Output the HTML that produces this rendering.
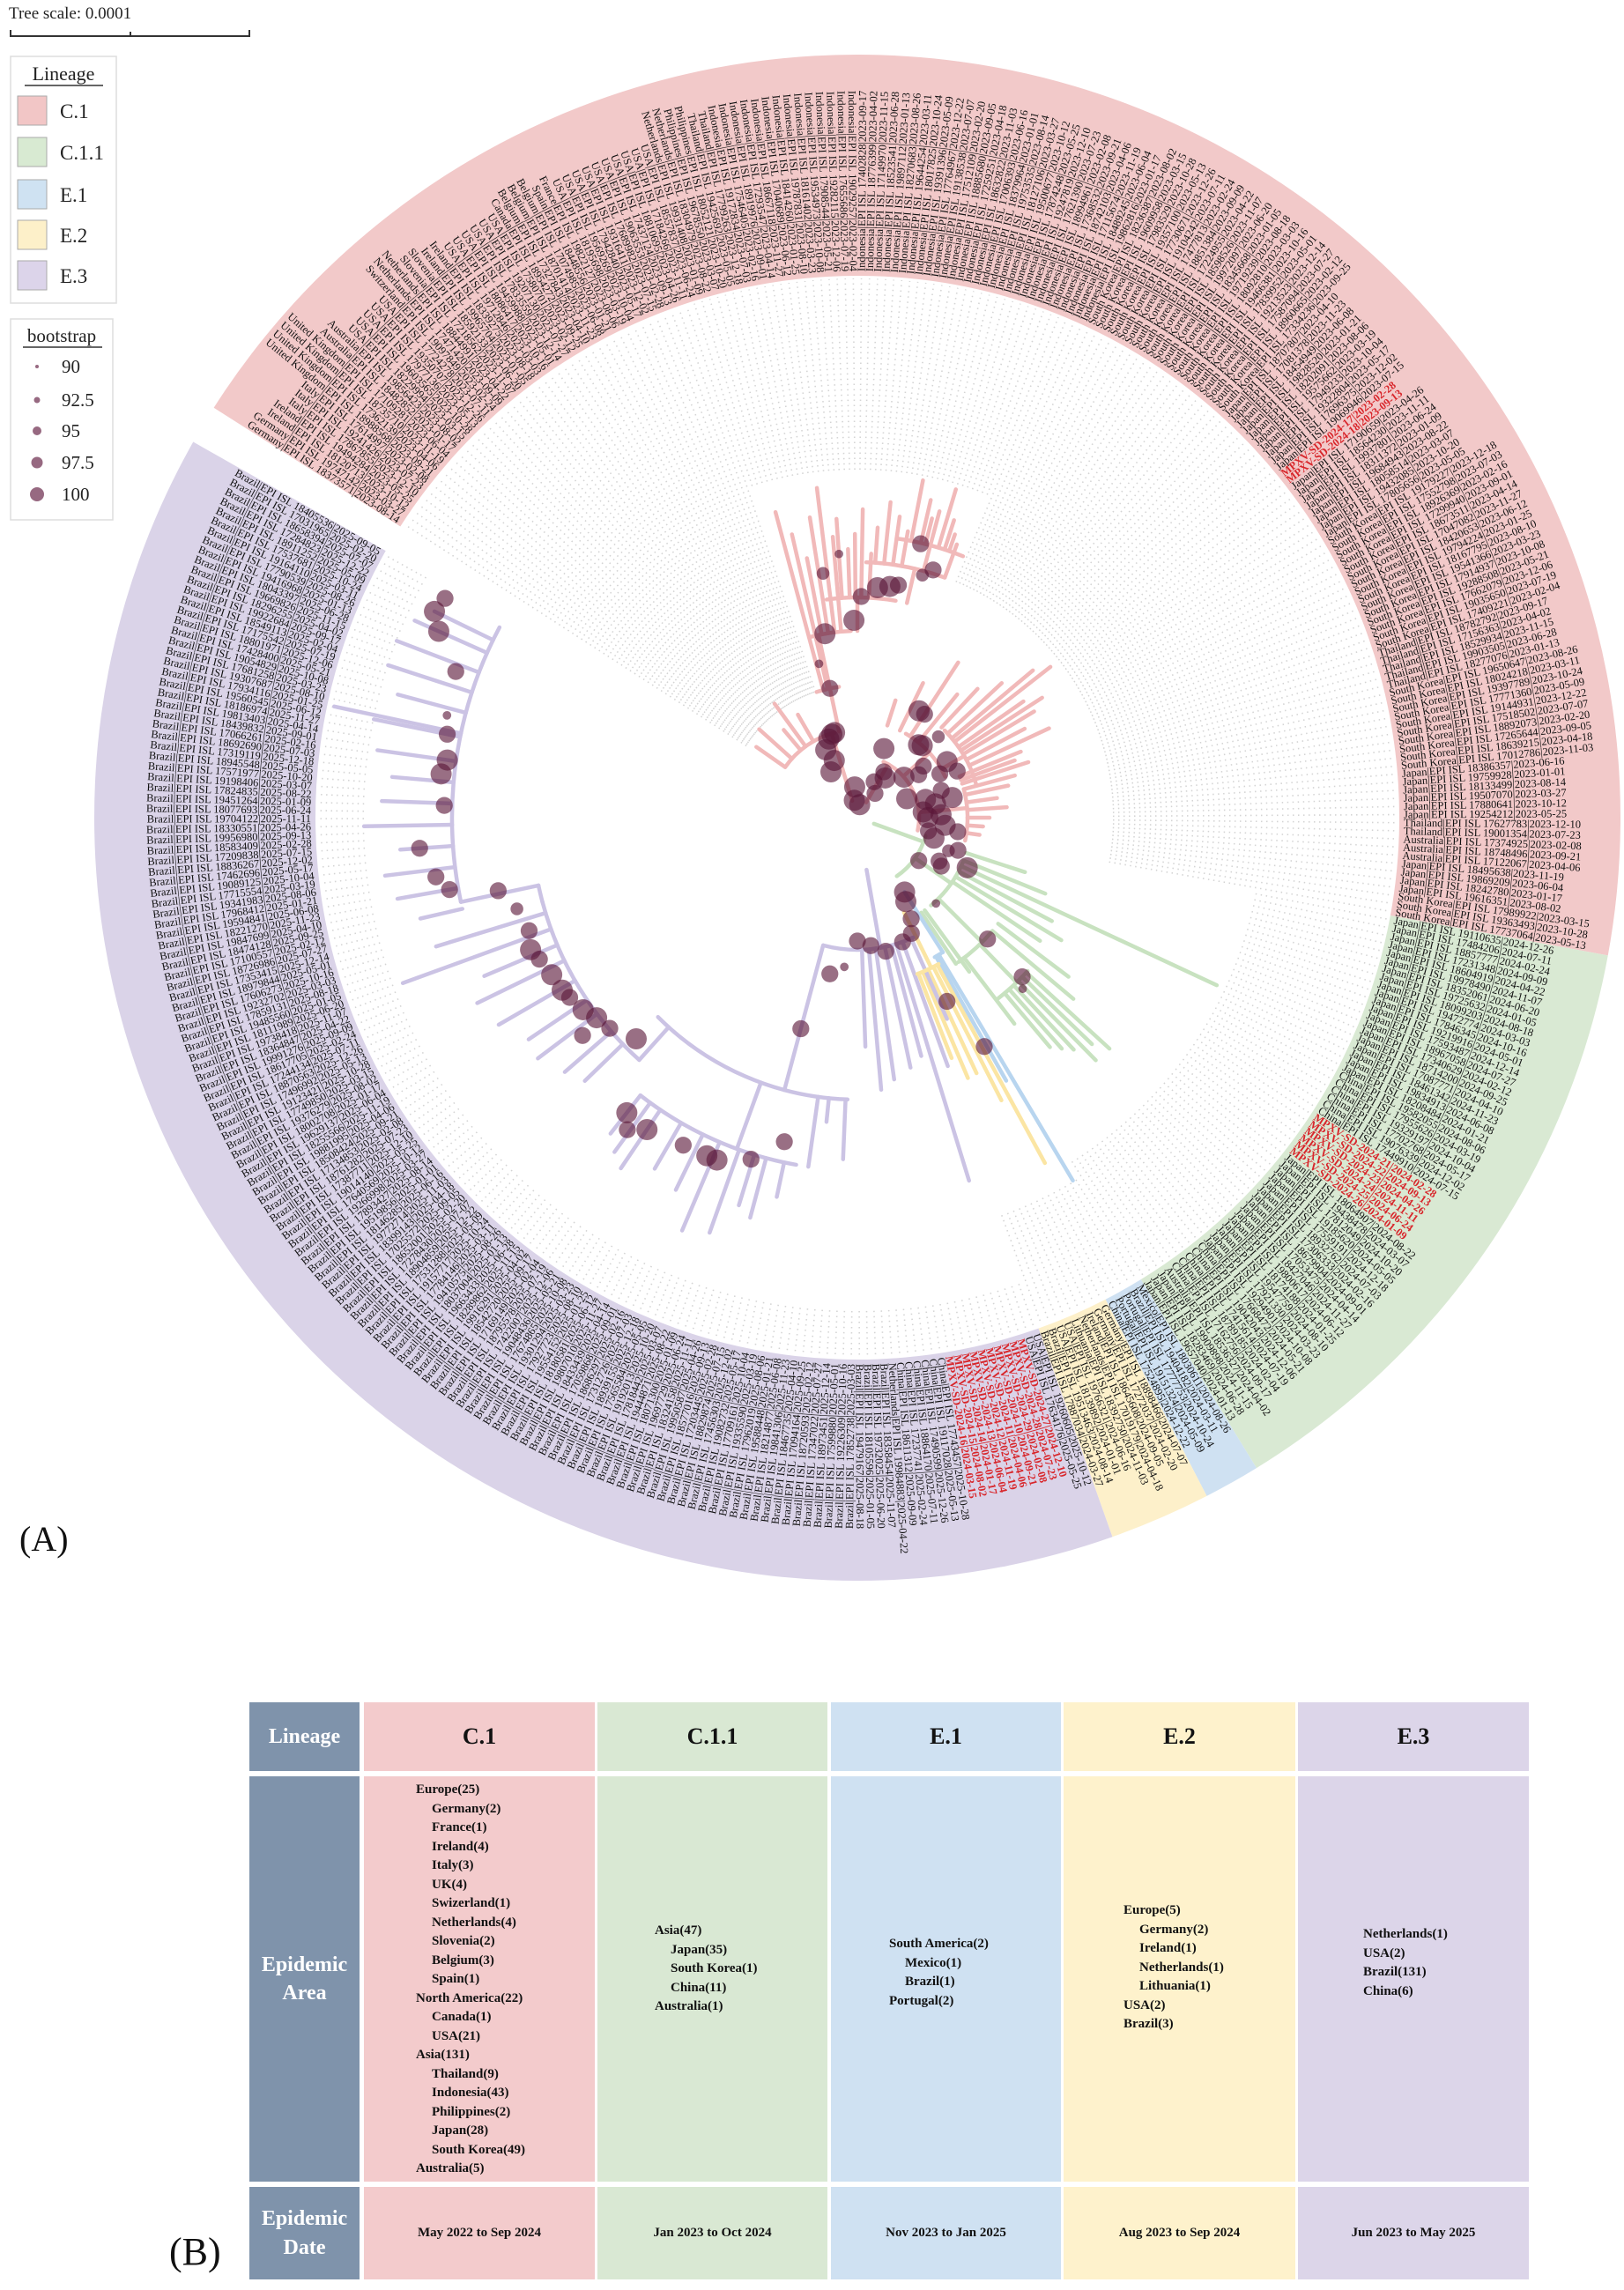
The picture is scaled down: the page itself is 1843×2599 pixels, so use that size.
<!DOCTYPE html>
<html><head><meta charset="utf-8">
<style>
html,body{margin:0;padding:0;background:#fff;}
body{width:1843px;height:2599px;position:relative;overflow:hidden;font-family:"Liberation Serif",serif;}
.cell{position:absolute;box-sizing:border-box;}
.hdr{background:#7f93ab;color:#fff;font-weight:bold;font-size:24px;display:flex;align-items:center;justify-content:center;text-align:center;line-height:1.35;}
.area{font-weight:bold;font-size:15px;line-height:21.5px;position:absolute;color:#111;white-space:nowrap;}
.area .s{padding-left:18px;}
.lh{font-weight:bold;font-size:26px;display:flex;align-items:center;justify-content:center;color:#111;}
.dt{font-weight:bold;font-size:15px;display:flex;align-items:center;justify-content:center;color:#111;}
</style></head>
<body>
<svg id="tree" width="1843" height="1900" style="position:absolute;left:0;top:0" xmlns="http://www.w3.org/2000/svg">
  <g id="bands"></g>
  <g id="dots"></g>
  <g id="branches"></g>
  <g id="nodes"></g>
  <g id="labels" font-family="Liberation Serif, serif" font-size="12.5"></g>
  <g>
    <text x="10" y="21" font-size="19" fill="#222">Tree scale: 0.0001</text>
    <line x1="12" y1="41" x2="283" y2="41" stroke="#333" stroke-width="2"/>
    <line x1="12" y1="34" x2="12" y2="42" stroke="#333" stroke-width="2"/>
    <line x1="148" y1="36" x2="148" y2="42" stroke="#333" stroke-width="2"/>
    <line x1="283" y1="34" x2="283" y2="42" stroke="#333" stroke-width="2"/>
  </g>
  <g>
    <rect x="12" y="64" width="120" height="280" fill="#fff" stroke="#ddd" stroke-width="1.5"/>
    <text x="72" y="91" font-size="22" text-anchor="middle" fill="#222">Lineage</text>
    <line x1="28" y1="97" x2="117" y2="97" stroke="#333" stroke-width="1.5"/>
    <rect x="20" y="109" width="33" height="33" fill="#f2c6c6" stroke="#aaa"/>
    <text x="68" y="134" font-size="23" fill="#222">C.1</text>
    <rect x="20" y="156" width="33" height="33" fill="#d8ead2" stroke="#aaa"/>
    <text x="68" y="181" font-size="23" fill="#222">C.1.1</text>
    <rect x="20" y="204" width="33" height="33" fill="#cfe2f2" stroke="#aaa"/>
    <text x="68" y="229" font-size="23" fill="#222">E.1</text>
    <rect x="20" y="250" width="33" height="33" fill="#fdf0c9" stroke="#aaa"/>
    <text x="68" y="275" font-size="23" fill="#222">E.2</text>
    <rect x="20" y="296" width="33" height="33" fill="#dcd4ea" stroke="#aaa"/>
    <text x="68" y="321" font-size="23" fill="#222">E.3</text>
  </g>
  <g>
    <rect x="12" y="362" width="116" height="228" fill="#fff" stroke="#ddd" stroke-width="1.5"/>
    <text x="70" y="388" font-size="21" text-anchor="middle" fill="#222">bootstrap</text>
    <line x1="26" y1="394" x2="116" y2="394" stroke="#333" stroke-width="1.5"/>
    <circle cx="42" cy="416" r="2" fill="#6b2a4c" fill-opacity="0.7"/>
    <text x="70" y="423" font-size="21" fill="#222">90</text>
    <circle cx="42" cy="454" r="3.5" fill="#6b2a4c" fill-opacity="0.7"/>
    <text x="70" y="461" font-size="21" fill="#222">92.5</text>
    <circle cx="42" cy="489" r="5" fill="#6b2a4c" fill-opacity="0.7"/>
    <text x="70" y="496" font-size="21" fill="#222">95</text>
    <circle cx="42" cy="525" r="6.5" fill="#6b2a4c" fill-opacity="0.7"/>
    <text x="70" y="532" font-size="21" fill="#222">97.5</text>
    <circle cx="42" cy="561" r="8" fill="#6b2a4c" fill-opacity="0.7"/>
    <text x="70" y="568" font-size="21" fill="#222">100</text>
  </g>
  <text x="22" y="1760" font-size="40" fill="#111">(A)</text>
</svg>

<div style="position:absolute;left:192px;top:2530px;font-size:44px;color:#111;">(B)</div>

<div>
  <div class="cell hdr" style="left:283px;top:1932px;width:125px;height:78px;">Lineage</div>
  <div class="cell hdr" style="left:283px;top:2016px;width:125px;height:460px;">Epidemic<br>Area</div>
  <div class="cell hdr" style="left:283px;top:2482px;width:125px;height:105px;">Epidemic<br>Date</div>

  <div class="cell lh" style="left:413px;top:1932px;width:262px;height:78px;background:#f3cbcc;">C.1</div>
  <div class="cell lh" style="left:678px;top:1932px;width:261px;height:78px;background:#d9e8d3;">C.1.1</div>
  <div class="cell lh" style="left:943px;top:1932px;width:261px;height:78px;background:#cfe1f2;">E.1</div>
  <div class="cell lh" style="left:1207px;top:1932px;width:263px;height:78px;background:#fef2cc;">E.2</div>
  <div class="cell lh" style="left:1473px;top:1932px;width:262px;height:78px;background:#dcd5e9;">E.3</div>

  <div class="cell" style="left:413px;top:2016px;width:262px;height:460px;background:#f3cbcc;">
    <div class="area" style="left:59px;top:5px;">Europe(25)<div class="s">Germany(2)</div><div class="s">France(1)</div><div class="s">Ireland(4)</div><div class="s">Italy(3)</div><div class="s">UK(4)</div><div class="s">Swizerland(1)</div><div class="s">Netherlands(4)</div><div class="s">Slovenia(2)</div><div class="s">Belgium(3)</div><div class="s">Spain(1)</div>North America(22)<div class="s">Canada(1)</div><div class="s">USA(21)</div>Asia(131)<div class="s">Thailand(9)</div><div class="s">Indonesia(43)</div><div class="s">Philippines(2)</div><div class="s">Japan(28)</div><div class="s">South Korea(49)</div>Australia(5)</div>
  </div>
  <div class="cell" style="left:678px;top:2016px;width:261px;height:460px;background:#d9e8d3;">
    <div class="area" style="left:65px;top:165px;">Asia(47)<div class="s">Japan(35)</div><div class="s">South Korea(1)</div><div class="s">China(11)</div>Australia(1)</div>
  </div>
  <div class="cell" style="left:943px;top:2016px;width:261px;height:460px;background:#cfe1f2;">
    <div class="area" style="left:66px;top:180px;">South America(2)<div class="s">Mexico(1)</div><div class="s">Brazil(1)</div>Portugal(2)</div>
  </div>
  <div class="cell" style="left:1207px;top:2016px;width:263px;height:460px;background:#fef2cc;">
    <div class="area" style="left:68px;top:142px;">Europe(5)<div class="s">Germany(2)</div><div class="s">Ireland(1)</div><div class="s">Netherlands(1)</div><div class="s">Lithuania(1)</div>USA(2)<br>Brazil(3)</div>
  </div>
  <div class="cell" style="left:1473px;top:2016px;width:262px;height:460px;background:#dcd5e9;">
    <div class="area" style="left:74px;top:169px;">Netherlands(1)<br>USA(2)<br>Brazil(131)<br>China(6)</div>
  </div>

  <div class="cell dt" style="left:413px;top:2482px;width:262px;height:105px;background:#f3cbcc;">May 2022 to Sep 2024</div>
  <div class="cell dt" style="left:678px;top:2482px;width:261px;height:105px;background:#d9e8d3;">Jan 2023 to Oct 2024</div>
  <div class="cell dt" style="left:943px;top:2482px;width:261px;height:105px;background:#cfe1f2;">Nov 2023 to Jan 2025</div>
  <div class="cell dt" style="left:1207px;top:2482px;width:263px;height:105px;background:#fef2cc;">Aug 2023 to Sep 2024</div>
  <div class="cell dt" style="left:1473px;top:2482px;width:262px;height:105px;background:#dcd5e9;">Jun 2023 to May 2025</div>
</div>

<script>
// ---- data ----
var lineageNames = ["C.1","C.1.1","E.1","E.2","E.3"];
var lineageLeafCounts = [184, 56, 5, 9, 162];
var leafCountries = [
  [["Germany",2],["Ireland",2],["Italy",3],["United Kingdom",4],["Australia",2],["USA",5],["Switzerland",1],["Netherlands",2],["Slovenia",2],["Ireland",2],["USA",6],["Canada",1],["Belgium",3],["Spain",1],["France",1],["USA",10],["Netherlands",2],["Philippines",2],["Thailand",2],["Indonesia",43],["South Korea",20],["Japan",10],["MPXV",2],["Japan",8],["South Korea",15],["Thailand",5],["South Korea",10],["Japan",6],["Thailand",2],["Australia",3],["Japan",4],["South Korea",3]],
  [["Japan",20],["China",6],["MPXV",6],["Japan",15],["China",5],["Australia",1],["Japan",3]],
  [["Mexico",1],["Brazil",1],["Portugal",2],["China",1]],
  [["Germany",2],["Ireland",1],["Netherlands",1],["Lithuania",1],["USA",2],["Brazil",2]],
  [["USA",2],["MPXV",10],["China",6],["Netherlands",1],["Brazil",143]]
];
// radial branch segments: angle (deg), start radius, end radius, lineage index
var tipAng = [255,257,259,261,263,265,266,268,269.5,271,273,274,276,278,280,281,283,284,285,286.7,288,289,290,215,222,230,234,240,
  288,296,303,309,313,317,320,322,325,327,329,332,335,338,340,342,345,348,352,356,360,364,368,
  253,258,270,283,285,300,318,330,355,
  18,22,25,28,31,34,37,40,42.5,44,45.5,47,48.5,50,52.7,54,56,20,35,45,46,
  57.6,59.3,60.5,
  63.8,61.5,63,65,67,68.6,
  80,66,70,72.9,75,78,82,85,88,105,92.4,95.8,98,110,102,105,107,109.6,113,116,120,124,126,128,132,136,139,143,146,150,154,157,160,163,168,167,170,173,176,179,182,185,188,191.5,192,195,198,201,204,206];
var tipR0 = [150,150,212,212,212,212,250,250,250,250,250,290,290,290,290,320,320,320,320,320,320,320,290,100,100,100,100,100,
  110,110,110,110,140,140,140,140,140,140,140,140,140,125,125,125,125,125,125,125,125,125,125,
  20,100,212,250,290,20,70,110,70,
  130,130,130,130,130,130,200,200,260,260,260,260,260,260,200,130,130,20,80,130,200,
  100,181,181,
  120,190,190,190,190,190,
  60,150,150,150,150,150,150,150,150,150,320,320,320,320,400,400,400,400,400,400,400,400,400,400,320,370,370,370,370,370,370,370,370,370,370,460,460,460,460,460,460,460,460,460,460,460,460,460,460,460,460];
var tipR1 = [359,330,300,345,377,320,340,305,322,350,300,330,360,345,330,390,370,350,360,389,355,340,330,140,150,130,160,135,
  140,170,210,180,200,224,260,278,230,250,234,215,240,200,190,204,185,175,160,170,150,143,140,
  100,212,250,290,320,70,110,140,125,
  200,230,450,250,270,250,300,320,388,370,386,360,350,340,294,216,200,80,130,200,260,
  181,479,343,
  190,446,360,320,321,293,
  150,250,300,431,280,290,300,310,260,320,388,347,400,400,440,470,460,500,509,470,460,480,469,455,370,430,440,454,450,470,480,460,549,500,460,509,530,540,520,560,540,530,550,560,607,540,560,560,550,534];
var tipLin = [0,0,0,0,0,0,0,0,0,0,0,0,0,0,0,0,0,0,0,0,0,0,0,0,0,0,0,0,
  0,0,0,0,0,0,0,0,0,0,0,0,0,0,0,0,0,0,0,0,0,0,0,
  0,0,0,0,0,0,0,0,0,
  1,1,1,1,1,1,1,1,1,1,1,1,1,1,1,1,1,1,1,1,1,
  2,2,2,
  3,3,3,3,3,3,
  4,4,4,4,4,4,4,4,4,4,4,4,4,4,4,4,4,4,4,4,4,4,4,4,4,4,4,4,4,4,4,4,4,4,4,4,4,4,4,4,4,4,4,4,4,4,4,4,4,4];
// arcs: start angle, end angle, radius, lineage
var arcAng0 = [215,252,255,262,272,278,295,300,315,345,15,22,40,42,58.5,61,65,92,100,132,165,168];
var arcAng1 = [255,262,268,280,290,292,372,335,345,372,56,50,55,52,61,69,105,135,128,165,168,208];
var arcR    = [100,150,212,250,290,320,70,110,140,125,80,130,200,260,181,190,150,320,400,370,370,460];
var arcLin  = [0,0,0,0,0,0,0,0,0,0,1,1,1,1,2,3,4,4,4,4,4,4];
// bootstrap nodes: angle, radius, bootstrap value
var nodeAng = [250,255,253,245,258,260,256,271,269,275,278,280,283,287,285,262,266,300,303,310,312,319,325,332,339,345,350,355,0,5,10.5,24.5,300,306,291,315,335,20,30,260,280,
  240,248,265,295,305,322,328,342,348,358,8,15,18,28,
  47.5,43,44,46,35,
  57.6,60,62,64,61,65,70,84,90,78,95,100,105,102.7,107.3,112.3,114,118,124,126.4,128,139.6,142.5,141.6,145,149.7,152.8,156,161,165,168.5,172,176,181.7,186,191.5,194,200,204,206,208,
  135,148,158,170,188];
var nodeR = [95,100,99,85,150,212,180,251,224,262,265,268,319,294,285,280,300,140,140,108,110,70,85,106,60,80,90,75,80,100,82,137,60,34,84,130,125,110,110,20,15,
  60,70,35,45,55,95,120,100,110,95,115,90,120,105,
  132,202,260,270,85,
  100,110,130,232,297,145,150,146,140,155,170,180,248,377,406,420,420,421,427,440,425,369,373,398,380,388,390,395,394,400,416,483,498,469,475,475,480,485,520,534,530,
  355,385,400,470,470];
var nodeBoot = [100,100,100,100,97.5,100,92.5,97.5,100,100,100,97.5,97.5,97.5,95,95,92.5,100,97.5,100,100,100,97.5,97.5,100,100,100,100,100,100,97.5,100,97.5,97.5,100,95,97.5,95,97.5,100,100,
  100,100,100,97.5,100,97.5,100,97.5,100,100,97.5,100,97.5,97.5,
  92.5,97.5,97.5,92.5,97.5,
  100,100,97.5,97.5,97.5,97.5,97.5,97.5,97.5,97.5,92.5,97.5,97.5,97.5,97.5,100,100,97.5,100,97.5,100,97.5,100,97.5,100,100,100,97.5,97.5,95,97.5,97.5,97.5,97.5,100,97.5,92.5,97.5,100,100,97.5,
  100,97.5,100,97.5,100];

// ---- drawing ----
var NS="http://www.w3.org/2000/svg";
var CX=973, CY=928, R_IN=615, R_OUT=866, LABEL_R=620, START=212.5, STEP=357/416;
var bandColors=["#f2c9c9","#d9e9d3","#cfe1f2","#fdf0ca","#dad3e8"];
var branchColors=["#f1b9b9","#c8e2c0","#b8d5ef","#fbe5a3","#cbc3e4"];
function P(a,r){var t=a*Math.PI/180;return [CX+r*Math.cos(t),CY+r*Math.sin(t)];}
function mk(tag,attrs,parent){var e=document.createElementNS(NS,tag);for(var k in attrs)e.setAttribute(k,attrs[k]);parent.appendChild(e);return e;}
function rScale(b){return 2.5+(b-90)*0.95;}

var bands=document.getElementById('bands');
var dots=document.getElementById('dots');
var br=document.getElementById('branches');
var nodes=document.getElementById('nodes');
var labels=document.getElementById('labels');

var ang=START;
var leafIdx=0;
for(var L=0;L<5;L++){
  var a0=ang, a1=ang+lineageLeafCounts[L]*STEP;
  var p1=P(a0,R_OUT),p2=P(a1,R_OUT),p3=P(a1,R_IN),p4=P(a0,R_IN);
  var lg=(a1-a0)>180?1:0;
  var band=mk('path',{d:'M'+p1+' A'+R_OUT+' '+R_OUT+' 0 '+lg+' 1 '+p2+' L'+p3+' A'+R_IN+' '+R_IN+' 0 '+lg+' 0 '+p4+' Z',fill:bandColors[L]},bands);
  
  
  var k=0;
  var list=leafCountries[L];
  for(var c=0;c<list.length;c++){
    for(var j=0;j<list[c][1];j++){
      var a=a0+(k+0.5)*STEP; k++; leafIdx++;
      var name=list[c][0], red=(name==="MPXV");
      var id=17000000+((leafIdx*1373571)%3000000);
      var mo=1+(leafIdx*7)%12, dd=1+(leafIdx*13)%28;
      var yr=(L===4&&!red)?2025:(L===0?2023:2024);
      var date=yr+'-'+(mo<10?'0':'')+mo+'-'+(dd<10?'0':'')+dd;
      var txt=red?('MPXV-SD-2024-'+(10+(leafIdx%20))+'|'+date):(name+'|EPI ISL '+id+'|'+date);
      var rs;
      if(L===0){var aa=a%360; rs=(aa>=212&&aa<252)?150:(aa>=252&&aa<292?395:290);} else if(L===1) rs=460; else if(L<4) rs=480; else rs=(a<100?440:560);
      var q1=P(a,rs),q2=P(a,R_IN-3);
      var dl=mk('line',{x1:q1[0],y1:q1[1],x2:q2[0],y2:q2[1],stroke:'#d4d4d4','stroke-width':1.6,'stroke-dasharray':'1.5 4.5'},dots);
      
      
      var am=((a%360)+360)%360;
      var flip=(am>90&&am<270);
      var t=mk('text',{transform:'rotate('+a+' '+CX+' '+CY+') translate('+(CX+LABEL_R)+' '+CY+')'+(flip?' rotate(180)':''),'text-anchor':flip?'end':'start','dominant-baseline':'central',fill:red?'#d8262b':'#111','font-weight':red?'bold':'normal'},labels);
      if(flip){t.setAttribute('x',0);}
      t.textContent=txt;
      
      
    }
  }
  ang=a1;
}

for(var i=0;i<tipAng.length;i++){
  var s=P(tipAng[i],tipR0[i]),e=P(tipAng[i],tipR1[i]);
  var ln=mk('line',{x1:s[0],y1:s[1],x2:e[0],y2:e[1],stroke:branchColors[tipLin[i]],'stroke-width':4.5,'stroke-linecap':'round'},br);
  
  
}
for(var i=0;i<arcAng0.length;i++){
  var s=P(arcAng0[i],arcR[i]),e=P(arcAng1[i],arcR[i]);
  var lg=(arcAng1[i]-arcAng0[i])>180?1:0;
  var ap=mk('path',{d:'M'+s+' A'+arcR[i]+' '+arcR[i]+' 0 '+lg+' 1 '+e,fill:'none',stroke:branchColors[arcLin[i]],'stroke-width':4.5,'stroke-linecap':'round'},br);
  
  
}
for(var i=0;i<nodeAng.length;i++){
  var p=P(nodeAng[i],nodeR[i]);
  var ci=mk('circle',{cx:p[0],cy:p[1],r:rScale(nodeBoot[i]),fill:'#5a1638','fill-opacity':0.62},nodes);
  
  
}
</script>
</body></html>
